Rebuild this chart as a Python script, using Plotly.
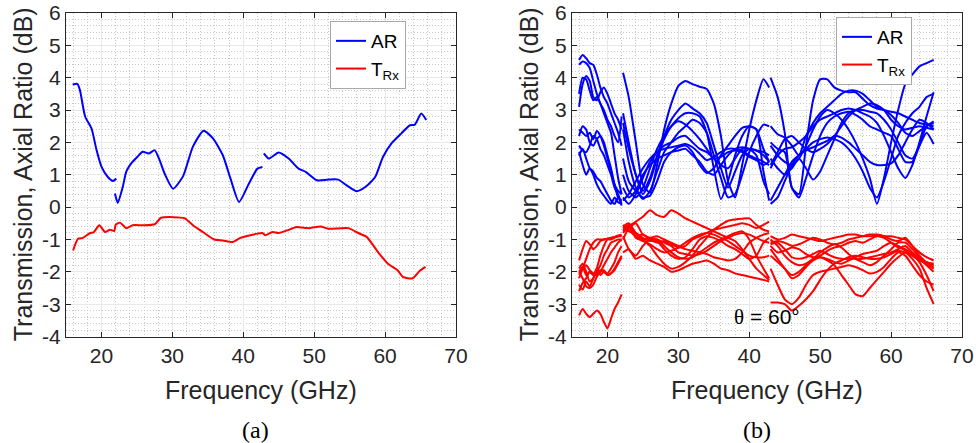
import plotly.graph_objects as go

# ---------------- Panel (a) data ----------------
a_ar_f1 = [15.95, 16.6, 16.96, 17.7, 18.6, 19.3, 20.0, 20.9, 21.6, 22.1]
a_ar_v1 = [3.79, 3.81, 3.62, 2.80, 2.43, 1.77, 1.25, 0.93, 0.81, 0.88]
a_ar_f2 = [21.9, 22.3, 23.0, 23.5, 24.2, 25.1, 25.8, 26.7, 27.5, 28.2, 28.9, 30.1, 31.5,
           32.9, 34.4, 35.7, 37.1, 38.2, 39.4, 40.8, 42.0, 42.7]
a_ar_v2 = [0.42, 0.13, 0.62, 1.10, 1.35, 1.56, 1.71, 1.66, 1.76, 1.45, 1.04, 0.57, 0.95,
           1.87, 2.36, 2.13, 1.61, 0.88, 0.16, 0.73, 1.19, 1.24]
a_ar_f3 = [42.9, 43.6, 45.0, 46.4, 47.8, 48.8, 50.4, 52.0, 53.4, 54.6, 56.0, 57.2, 58.6,
           59.7, 60.9, 62.3, 63.5, 64.2, 65.1, 65.8]
a_ar_v3 = [1.66, 1.50, 1.69, 1.50, 1.19, 1.09, 0.83, 0.85, 0.85, 0.67, 0.49, 0.62, 0.93,
           1.55, 1.97, 2.28, 2.53, 2.55, 2.89, 2.69]
a_t_f = [16.0, 16.7, 17.4, 18.4, 18.9, 19.7, 20.5, 21.2, 21.8, 22.0, 22.6, 23.5, 24.4, 25.8,
         27.5, 28.4, 30.1, 31.7, 32.9, 34.3, 35.9, 37.1, 38.5, 39.6, 41.0, 42.0, 42.7, 43.1,
         44.1, 45.0, 46.2, 47.4, 49.3, 50.9, 52.0, 54.8, 56.2, 57.4, 59.0, 60.4, 61.8, 62.5,
         63.9, 64.9, 65.7]
a_t_v = [-1.34, -0.98, -0.95, -0.80, -0.78, -0.56, -0.77, -0.70, -0.74, -0.55, -0.48, -0.65,
         -0.56, -0.56, -0.53, -0.33, -0.31, -0.34, -0.56, -0.77, -1.00, -1.03, -1.08, -0.95,
         -0.87, -0.82, -0.80, -0.87, -0.77, -0.80, -0.72, -0.62, -0.65, -0.60, -0.67, -0.65,
         -0.80, -0.92, -1.39, -1.75, -1.96, -2.16, -2.20, -1.97, -1.85]

# ---------------- Panel (b) data ----------------
b_f_band1 = [16, 16.5, 17, 17.5, 18, 18.5, 19, 19.5, 20, 20.5, 21, 21.5, 22]
b_f_band2 = [22.2, 23, 24, 25, 26, 27, 28, 29, 30, 31, 32, 33, 34, 35, 36, 37, 38, 39, 40,
             41, 42, 42.8]
b_f_band3 = [43, 44, 45, 46, 47, 48, 49, 50, 51, 52, 53, 54, 55, 56, 57, 58, 59, 60, 61, 62,
             63, 64, 65, 66]

b_ar_band1 = [
    [4.55, 4.70, 4.60, 4.45, 4.40, 4.10, 3.70, 3.40, 3.20, 2.90, 2.60, 2.30, 1.90],
    [3.10, 3.80, 4.05, 3.90, 3.40, 3.30, 3.55, 3.70, 3.50, 3.20, 2.90, 2.70, 2.40],
    [3.50, 4.00, 3.95, 3.60, 3.30, 3.40, 3.20, 2.90, 2.60, 2.30, 1.60, 0.90, 0.40],
    [4.40, 4.50, 4.45, 4.30, 3.90, 3.50, 3.20, 3.00, 2.70, 2.50, 2.20, 2.00, 2.80],
    [2.20, 2.50, 2.40, 2.00, 1.90, 2.10, 2.20, 2.00, 1.60, 1.20, 0.70, 0.30, 0.20],
    [1.90, 1.75, 1.70, 1.90, 2.20, 2.10, 1.80, 1.60, 1.30, 1.00, 0.60, 0.40, 0.10],
    [1.60, 1.80, 1.50, 1.20, 1.10, 0.90, 0.80, 0.60, 0.40, 0.20, 0.10, 0.30, 0.05],
    [1.70, 1.30, 1.00, 1.20, 1.00, 0.70, 0.50, 0.35, 0.20, 0.10, 0.30, 0.15, 0.10],
    [2.40, 2.30, 2.20, 2.30, 2.10, 2.35, 2.20, 1.90, 1.50, 1.10, 0.70, 0.50, 0.40],
]
b_ar_band2 = [
    [4.15, 3.40, 2.00, 0.70, 0.45, 1.30, 2.40, 3.20, 3.75, 3.90, 3.80, 3.72, 3.65, 3.20, 2.20, 0.80, 0.30, 1.30, 2.40, 3.30, 3.95, 3.70],
    [2.90, 2.00, 1.00, 0.50, 0.90, 1.60, 2.20, 2.70, 3.00, 3.20, 3.05, 2.90, 2.60, 1.90, 1.20, 0.60, 1.10, 1.60, 1.80, 1.75, 1.60, 1.40],
    [2.60, 1.80, 1.00, 0.40, 0.80, 1.50, 2.10, 2.50, 2.75, 2.90, 2.90, 2.80, 2.30, 1.20, 0.25, 0.80, 1.60, 2.20, 2.50, 2.40, 1.10, 0.20],
    [1.00, 0.50, 0.30, 0.60, 1.20, 1.80, 2.20, 2.50, 2.65, 2.55, 2.35, 2.10, 1.80, 1.50, 1.55, 1.70, 1.75, 1.70, 1.55, 1.45, 1.30, 1.40],
    [0.30, 0.10, 0.40, 0.90, 1.40, 1.70, 1.90, 2.00, 2.15, 2.20, 2.00, 1.80, 1.70, 1.50, 1.30, 1.20, 1.50, 1.80, 1.80, 1.75, 1.70, 1.60],
    [0.20, 0.40, 0.80, 1.20, 1.50, 1.70, 1.80, 1.85, 1.90, 1.95, 1.85, 1.65, 1.45, 1.55, 1.70, 1.80, 1.80, 1.75, 1.60, 1.50, 1.40, 1.30],
    [0.60, 0.30, 0.50, 1.00, 1.30, 1.50, 1.60, 1.70, 1.75, 1.80, 1.60, 1.40, 1.10, 1.00, 1.30, 1.60, 1.80, 1.85, 1.80, 1.60, 0.80, 0.40],
    [1.50, 0.80, 0.50, 0.30, 0.35, 0.80, 1.40, 1.70, 1.85, 1.90, 1.70, 1.30, 1.05, 1.20, 1.60, 1.90, 2.20, 2.45, 2.50, 2.40, 1.80, 1.40],
    [2.40, 1.40, 0.60, 0.25, 0.50, 1.10, 1.70, 2.00, 2.30, 2.50, 2.70, 2.60, 2.30, 1.60, 0.90, 0.30, 0.40, 1.00, 1.70, 2.20, 2.55, 2.50],
]
b_ar_band3 = [
    [4.00, 3.40, 2.30, 0.60, 0.40, 1.90, 3.30, 3.95, 3.95, 3.70, 3.60, 3.55, 3.55, 3.35, 3.15, 3.05, 3.00, 2.95, 2.90, 2.80, 2.70, 2.60, 2.55, 2.50],
    [2.50, 2.25, 2.15, 1.90, 1.60, 2.20, 2.60, 2.90, 3.10, 3.30, 3.50, 3.60, 3.60, 3.50, 3.30, 3.10, 3.00, 2.85, 2.60, 2.30, 2.20, 2.35, 2.50, 2.65],
    [1.90, 1.60, 1.40, 1.30, 1.50, 1.90, 2.40, 2.80, 3.00, 2.90, 2.70, 2.40, 2.00, 1.50, 0.90, 0.10, 0.90, 2.00, 3.00, 3.80, 4.10, 4.35, 4.45, 4.55],
    [1.20, 1.60, 1.80, 1.85, 2.00, 2.20, 2.50, 2.70, 2.80, 2.90, 3.00, 3.05, 3.00, 2.90, 2.80, 2.60, 2.20, 1.70, 1.20, 0.90, 1.30, 2.00, 2.80, 3.55],
    [0.20, 0.60, 1.00, 1.40, 1.60, 1.75, 1.85, 1.95, 2.05, 2.20, 2.15, 2.00, 1.80, 1.60, 1.40, 1.30, 1.30, 1.35, 1.60, 2.00, 2.40, 2.70, 2.60, 2.40],
    [1.50, 1.20, 1.00, 1.20, 1.50, 1.20, 0.85, 1.10, 1.60, 2.10, 2.60, 2.90, 3.00, 3.00, 2.95, 2.90, 2.70, 2.40, 2.00, 1.60, 1.50, 1.90, 2.30, 1.95],
    [2.00, 1.80, 1.70, 0.60, 0.30, 0.90, 1.60, 2.20, 2.60, 2.80, 2.90, 2.95, 2.85, 2.70, 2.50, 2.40, 2.30, 2.20, 1.80, 1.40, 1.40, 1.90, 2.50, 2.60],
    [0.10, 0.30, 0.80, 1.30, 1.60, 1.80, 2.00, 2.10, 2.15, 2.10, 2.00, 1.80, 1.50, 1.10, 0.60, 0.30, 0.80, 1.50, 2.20, 2.60, 2.90, 3.10, 3.40, 3.50],
    [1.30, 1.70, 2.10, 2.20, 2.00, 1.80, 1.70, 1.80, 1.95, 2.20, 2.50, 2.80, 3.00, 3.10, 3.20, 3.15, 3.00, 2.70, 2.50, 2.40, 2.45, 2.50, 2.45, 2.40],
]

b_t_band1 = [
    [-1.65, -1.30, -1.05, -1.15, -1.30, -1.20, -1.05, -1.00, -0.98, -0.95, -0.92, -0.88, -0.85],
    [-2.20, -1.90, -1.60, -1.30, -1.10, -1.00, -1.00, -1.00, -0.98, -0.95, -0.93, -0.90, -0.90],
    [-1.90, -1.75, -2.00, -2.30, -2.20, -1.90, -1.50, -1.20, -1.00, -1.00, -0.95, -0.90, -0.88],
    [-2.00, -1.85, -2.10, -2.00, -2.10, -1.90, -2.10, -2.00, -2.05, -1.90, -1.70, -1.40, -1.20],
    [-2.40, -2.55, -2.30, -2.45, -2.20, -2.00, -1.80, -1.50, -1.30, -1.10, -1.05, -1.00, -1.00],
    [-2.60, -2.35, -2.20, -2.00, -2.10, -2.05, -1.95, -2.00, -2.10, -2.05, -1.90, -1.70, -1.50],
    [-3.35, -3.15, -3.30, -3.40, -3.30, -3.20, -3.30, -3.55, -3.75, -3.45, -3.15, -2.95, -2.70],
    [-2.00, -2.20, -2.45, -2.50, -2.40, -2.15, -2.00, -1.95, -2.10, -2.05, -1.95, -1.75, -1.55],
    [-2.10, -1.90, -1.80, -1.95, -2.05, -2.10, -2.00, -1.80, -1.60, -1.40, -1.25, -1.10, -1.00],
]
b_t_band2 = [
    [-0.80, -0.60, -0.45, -0.30, -0.10, -0.25, -0.30, -0.10, -0.20, -0.35, -0.45, -0.55, -0.65, -0.75, -0.85, -0.95, -1.05, -1.30, -1.60, -1.90, -2.10, -2.25],
    [-0.60, -0.50, -0.80, -1.00, -1.20, -1.50, -1.75, -1.90, -1.85, -1.70, -1.50, -1.20, -0.95, -0.70, -0.55, -0.42, -0.38, -0.36, -0.35, -0.55, -0.70, -0.75],
    [-0.55, -0.70, -0.90, -0.85, -1.00, -1.10, -1.05, -1.15, -1.25, -1.20, -1.00, -0.90, -0.80, -0.70, -0.65, -0.60, -0.55, -0.50, -0.55, -0.65, -0.55, -0.45],
    [-0.60, -0.75, -0.80, -0.95, -1.05, -1.00, -1.10, -1.20, -1.40, -1.45, -1.50, -1.45, -1.35, -1.20, -1.05, -0.95, -0.85, -0.80, -0.85, -0.95, -1.05, -1.10],
    [-0.90, -1.30, -1.50, -1.20, -1.00, -1.05, -1.30, -1.50, -1.60, -1.55, -1.30, -1.00, -0.90, -0.95, -1.05, -1.20, -1.30, -1.45, -1.60, -1.50, -1.10, -0.95],
    [-1.40, -1.30, -1.60, -1.50, -1.65, -1.75, -1.85, -2.00, -1.95, -1.85, -1.75, -1.70, -1.65, -1.75, -1.90, -1.95, -2.05, -2.10, -2.15, -2.20, -2.25, -2.30],
    [-0.70, -0.55, -0.90, -1.00, -0.95, -0.90, -1.00, -1.10, -1.20, -1.30, -1.35, -1.40, -1.45, -1.55, -1.60, -1.65, -1.60, -1.40, -1.10, -0.95, -0.85, -0.80],
    [-1.00, -0.65, -0.50, -0.85, -0.95, -1.00, -1.20, -1.40, -1.55, -1.60, -1.55, -1.40, -1.25, -1.10, -1.00, -0.90, -0.80, -0.75, -1.00, -1.50, -1.90, -2.20],
    [-0.75, -0.60, -0.95, -1.05, -1.15, -1.30, -1.40, -1.35, -1.25, -1.10, -0.95, -0.85, -0.80, -0.85, -0.95, -1.05, -1.20, -1.35, -1.50, -1.55, -1.55, -1.50],
]
b_t_band3 = [
    [-0.90, -1.00, -0.95, -0.85, -0.90, -0.95, -1.00, -1.05, -1.00, -0.95, -0.90, -0.85, -0.85, -0.90, -0.90, -0.88, -0.90, -0.90, -0.95, -1.00, -1.20, -1.40, -1.55, -1.65],
    [-1.10, -1.05, -1.10, -1.20, -1.15, -1.05, -0.95, -1.00, -1.10, -1.15, -1.10, -1.00, -0.95, -0.90, -0.85, -0.85, -0.90, -1.00, -1.05, -0.95, -1.20, -1.50, -1.70, -1.75],
    [-1.20, -1.40, -1.35, -1.25, -1.30, -1.45, -1.55, -1.50, -1.35, -1.25, -1.20, -1.10, -1.05, -1.10, -1.00, -0.90, -0.95, -1.10, -1.25, -1.30, -1.45, -1.70, -2.10, -2.60],
    [-1.30, -1.60, -1.90, -2.10, -2.00, -1.80, -1.60, -1.55, -1.65, -1.80, -2.10, -2.40, -2.70, -2.75, -2.50, -2.25, -2.00, -1.75, -1.55, -1.40, -1.60, -1.90, -2.50, -3.00],
    [-2.95, -2.95, -3.00, -3.20, -3.05, -2.85, -2.60, -2.25, -1.95, -1.75, -1.65, -1.55, -1.50, -1.55, -1.60, -1.60, -1.55, -1.45, -1.35, -1.40, -1.50, -1.60, -1.70, -1.80],
    [-1.90, -2.40, -2.85, -3.00, -2.80, -2.40, -2.10, -2.00, -1.95, -1.90, -1.85, -1.80, -1.85, -1.95, -2.05, -2.00, -1.85, -1.60, -1.40, -1.50, -1.80, -2.10, -2.30, -2.40],
    [-1.50, -1.70, -1.90, -2.20, -2.10, -1.85, -1.65, -1.55, -1.60, -1.70, -1.75, -1.65, -1.55, -1.45, -1.40, -1.35, -1.20, -1.10, -1.20, -1.35, -1.50, -1.65, -1.75, -1.85],
    [-1.00, -1.20, -1.50, -1.70, -1.80, -1.75, -1.60, -1.40, -1.25, -1.15, -1.25, -1.45, -1.60, -1.70, -1.80, -1.70, -1.50, -1.30, -1.10, -1.10, -1.30, -1.55, -1.75, -1.90],
    [-1.15, -1.10, -1.30, -1.55, -1.60, -1.55, -1.45, -1.35, -1.45, -1.55, -1.60, -1.60, -1.60, -1.60, -1.55, -1.50, -1.45, -1.40, -1.30, -1.20, -1.40, -1.60, -1.80, -2.00],
]

x_tick_vals = [20, 30, 40, 50, 60, 70]
x_tick_text = ["20", "30", "40", "50", "60", "70"]
y_tick_vals = [-4, -3, -2, -1, 0, 1, 2, 3, 4, 5, 6]
y_tick_text = ["-4", "-3", "-2", "-1", "0", "1", "2", "3", "4", "5", "6"]

series_names = ["AR", "T<sub>Rx</sub>"]
BLUE = "#0000ff"
RED = "#ff0000"
LW = 2.0

fig = go.Figure()


def add_line(f, v, color, xa, ya, legend, name, show):
    fig.add_trace(go.Scatter(
        x=f, y=v, mode="lines", xaxis=xa, yaxis=ya,
        line=dict(color=color, width=LW, shape="spline", smoothing=0.6),
        name=name, legend=legend, legendgroup=legend + name, showlegend=show,
        hoverinfo="skip"))


# Panel (a)
add_line(a_ar_f1, a_ar_v1, BLUE, "x", "y", "legend", series_names[0], True)
add_line(a_ar_f2, a_ar_v2, BLUE, "x", "y", "legend", series_names[0], False)
add_line(a_ar_f3, a_ar_v3, BLUE, "x", "y", "legend", series_names[0], False)
add_line(a_t_f, a_t_v, RED, "x", "y", "legend", series_names[1], True)

# Panel (b)
first = True
for band_f, curves in ((b_f_band1, b_ar_band1), (b_f_band2, b_ar_band2), (b_f_band3, b_ar_band3)):
    for c in curves:
        add_line(band_f, c, BLUE, "x2", "y2", "legend2", series_names[0], first)
        first = False
first = True
for band_f, curves in ((b_f_band1, b_t_band1), (b_f_band2, b_t_band2), (b_f_band3, b_t_band3)):
    for c in curves:
        add_line(band_f, c, RED, "x2", "y2", "legend2", series_names[1], first)
        first = False

FONT = "Liberation Sans, Arial, sans-serif"
AXC = "#262626"


def xaxis_cfg(domain, anchor):
    return dict(domain=domain, anchor=anchor, range=[15, 70], tickvals=x_tick_vals,
                ticktext=x_tick_text, ticks="inside", ticklen=5, tickcolor=AXC,
                showline=True, linecolor=AXC, linewidth=1, mirror="ticks",
                showgrid=True, gridcolor="#e8e8e8", gridwidth=1, zeroline=False,
                automargin=False,
                tickfont=dict(family=FONT, size=21, color=AXC),
                minor=dict(dtick=2, tick0=0, showgrid=True, gridcolor="#c8c8c8",
                           griddash="1px,2px", gridwidth=1, ticks=""))


def yaxis_cfg(domain, anchor):
    return dict(domain=domain, anchor=anchor, range=[-4, 6], tickvals=y_tick_vals,
                ticktext=y_tick_text, ticks="inside", ticklen=5, tickcolor=AXC,
                showline=True, linecolor=AXC, linewidth=1, mirror="ticks",
                showgrid=True, gridcolor="#e8e8e8", gridwidth=1, zeroline=False,
                automargin=False,
                tickfont=dict(family=FONT, size=21, color=AXC),
                minor=dict(dtick=0.2, tick0=0, showgrid=True, gridcolor="#c8c8c8",
                           griddash="1px,2px", gridwidth=1, ticks=""))


W, H = 976, 443
ydom = [1 - 336.5 / H, 1 - 13 / H]
xa_dom = [66 / W, 456 / W]
xb_dom = [572 / W, 962 / W]

legend_common = dict(bgcolor="white", bordercolor="#a8a8a8", borderwidth=1,
                     font=dict(family=FONT, size=19, color="black"),
                     xanchor="left", yanchor="top", itemwidth=30, tracegroupgap=0)

annotations = []
for dom, lab, labx in ((xa_dom, "(a)", 255), (xb_dom, "(b)", 757)):
    cx = (dom[0] + dom[1]) / 2
    annotations.append(dict(text="Frequency (GHz)", x=cx, y=1 - 390 / H, xref="paper", yref="paper",
                            showarrow=False, xanchor="center", yanchor="middle",
                            font=dict(family=FONT, size=25, color=AXC)))
    annotations.append(dict(text=lab, x=labx / W, y=1 - 430 / H, xref="paper", yref="paper",
                            showarrow=False, xanchor="center", yanchor="middle",
                            font=dict(family="Liberation Serif, Times New Roman, serif", size=24, color="black")))
for tx in (22.5, 528.5):
    annotations.append(dict(text="Transmission, Axial Ratio (dB)", x=tx / W, y=(ydom[0] + ydom[1]) / 2,
                            xref="paper", yref="paper", showarrow=False, textangle=-90,
                            xanchor="center", yanchor="middle",
                            font=dict(family=FONT, size=25, color=AXC)))
annotations.append(dict(text='<span style="font-family:Liberation Serif">θ</span> = 60°',
                        x=767 / W, y=1 - 317 / H, xref="paper", yref="paper",
                        showarrow=False, xanchor="center", yanchor="middle",
                        font=dict(family=FONT, size=21, color="black")))

fig.update_layout(
    width=W, height=H, margin=dict(l=0, r=0, t=0, b=0, autoexpand=False),
    paper_bgcolor="white", plot_bgcolor="white",
    xaxis=xaxis_cfg(xa_dom, "y"), yaxis=yaxis_cfg(ydom, "x"),
    xaxis2=xaxis_cfg(xb_dom, "y2"), yaxis2=yaxis_cfg(ydom, "x2"),
    legend=dict(x=330 / W, y=1 - 21 / H, **legend_common),
    legend2=dict(x=836 / W, y=1 - 17 / H, **legend_common),
    annotations=annotations,
    showlegend=True,
)

fig.write_html("out.html", config={"displayModeBar": False},
               post_script="document.body.style.margin='0';document.body.style.overflow='hidden';")
